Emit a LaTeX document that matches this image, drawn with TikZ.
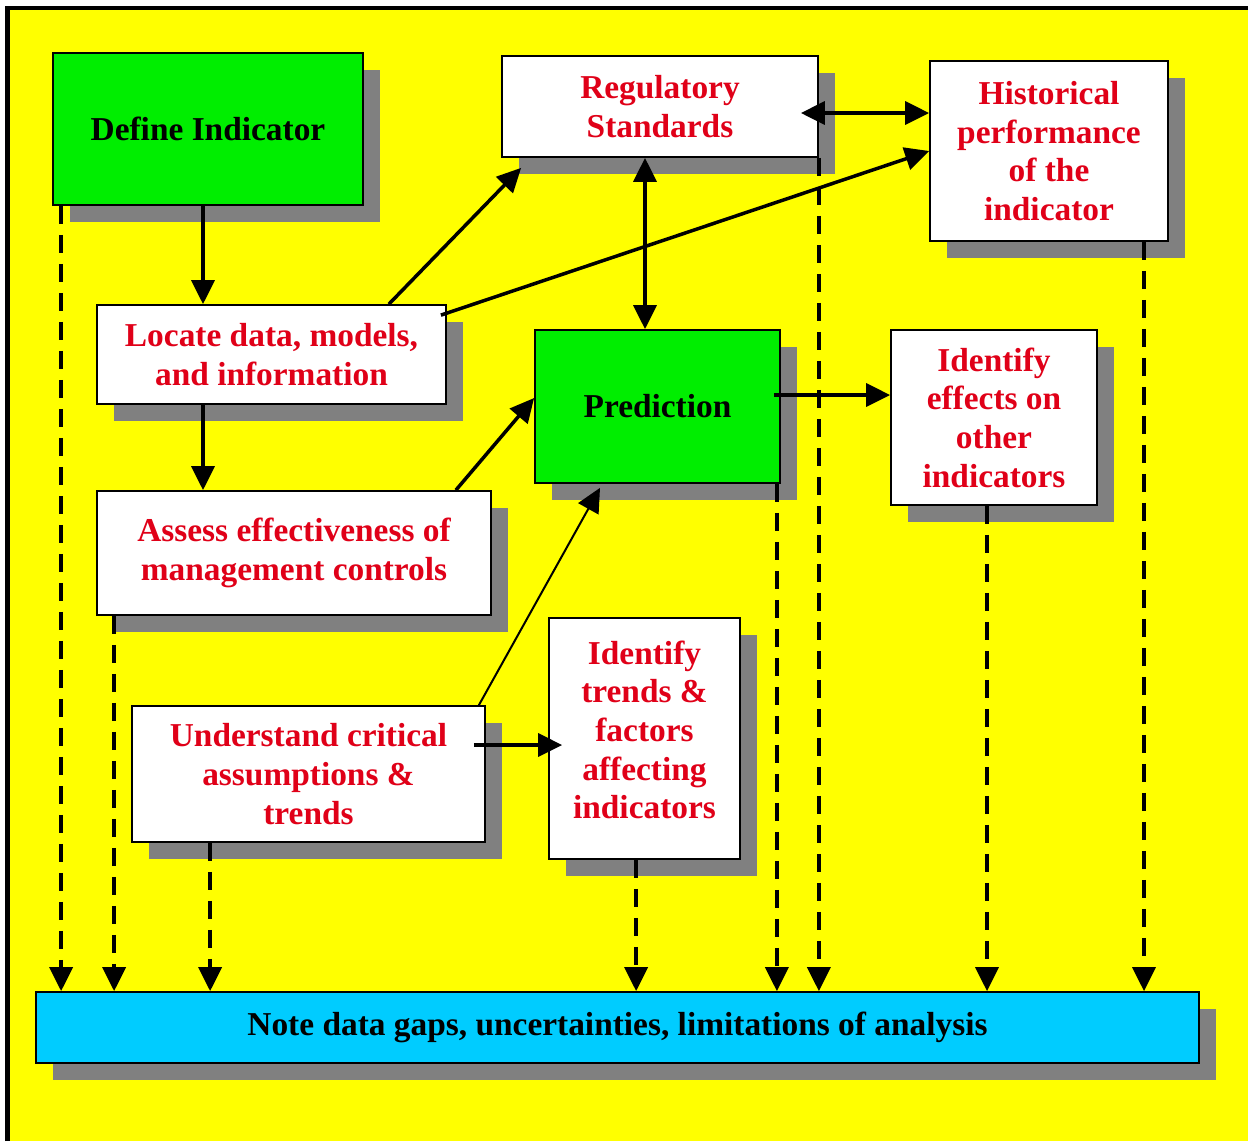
\documentclass[tikz,border=0pt]{standalone}
\usepackage{fontspec}
\setmainfont{Liberation Serif}
\usepackage{tikz}
\usepackage{xcolor}
\usetikzlibrary{arrows.meta,shadows,calc}

\definecolor{bgyellow}{RGB}{255,255,0}
\definecolor{redtxt}{RGB}{224,0,24}
\definecolor{boxgreen}{RGB}{0,238,0}
\definecolor{boxblue}{RGB}{0,204,255}
\definecolor{shadowgray}{RGB}{128,128,128}

\begin{document}
\begin{tikzpicture}[x=0.2mm, y=-0.2mm, ->, >={Triangle[length=4.8mm,width=4.6mm]}, line width=0.7mm, font=\bfseries\fontsize{19}{22}\selectfont, align=center]

    \tikzstyle{box}=[draw=black, line width=0.35mm, fill=white, text=redtxt, inner sep=0pt, drop shadow={shadow xshift=3.4mm, shadow yshift=-3.4mm, fill=shadowgray, opacity=1}]
    \tikzstyle{gapline}=[dash pattern=on 3.6mm off 2.2mm]

    % background and frame
    \useasboundingbox (0,0) rectangle (1248,1141);
    \fill[white] (0,0) rectangle (1248,1141);
    \fill[bgyellow] (8,8) rectangle (1248,1141);
    \draw[-, line width=0.8mm] (7.5,1141) -- (7.5,7.5) -- (1248,7.5);

    \node[box, fill=boxgreen, text=black, minimum width=62mm, minimum height=30.4mm] (def) at (208,129) {Define Indicator};
    \node[box, minimum width=63.2mm, minimum height=20.2mm] (reg) at (660,106.5) {Regulatory\\Standards};
    \node[box, minimum width=47.6mm, minimum height=36mm] (hist) at (1049,151) {Historical\\performance\\of the\\indicator};
    \node[box, minimum width=69.8mm, minimum height=19.8mm] (loc) at (271.5,354.5) {Locate data, models,\\and information};
    \node[box, fill=boxgreen, text=black, minimum width=49mm, minimum height=30.6mm] (pred) at (657.5,406.5) {Prediction};
    \node[box, minimum width=41.2mm, minimum height=35mm] (eff) at (994,417.5) {Identify\\effects on\\other\\indicators};
    \node[box, minimum width=78.8mm, minimum height=24.8mm] (ass) at (294,553) {Assess effectiveness of\\management controls};
    \node[box, minimum width=70.6mm, minimum height=27.2mm] (und) at (308.5,774) {Understand critical\\assumptions \&\\trends};
    \node[box, minimum width=38.2mm, minimum height=48.2mm, text depth=3.5mm] (trd) at (644.5,738.5) {Identify\\trends \&\\factors\\affecting\\indicators};
    \node[box, fill=boxblue, text=black, minimum width=232.6mm, minimum height=14.2mm] (note) at (617.5,1027.5) {Note data gaps, uncertainties, limitations of analysis};

    % solid arrows
    \draw ($(def.south)+(-5,0)$) coordinate (s1) -- (s1 |- loc.north);
    \draw ($(loc.south)+(-68.5,0)$) coordinate (s2) -- (s2 |- ass.north);
    \draw ($(loc.north east)+(-58,0)$) -- ($(reg.south west)+(20,10)$);
    \draw ($(loc.north east)+(-6,11)$) -- (hist.west);
    \draw[<->] ($(reg.south)+(-15,0)$) coordinate (s3) -- (s3 |- pred.north);
    \draw[<->] ($(reg.east)+(-18,6.5)$) coordinate (s4) -- (s4 -| hist.west);
    \draw ($(ass.north east)+(-36,0)$) -- ($(pred.west)+(0,-8.5)$);
    \draw[line width=0.4mm] ($(und.north east)+(-7,0)$) -- ($(pred.south)+(-57.5,4)$);
    \draw ($(pred.east)+(-7,-11.5)$) coordinate (s5) -- (s5 -| eff.west);
    \draw ($(und.east)+(-12,-29)$) coordinate (s6) -- ($(s6 -| trd.west)+(14,0)$);

    % dashed arrows down to the note
    \foreach \a/\dx in {def.south west/9, ass.south west/18, und.south west/79, trd.south west/88,
                        pred.south east/-4, reg.south east/0, eff.south/-7, hist.south/95}
      \draw[gapline] ($(\a)+(\dx,0)$) coordinate (s) -- (s |- note.north);
\end{tikzpicture}
\end{document}
